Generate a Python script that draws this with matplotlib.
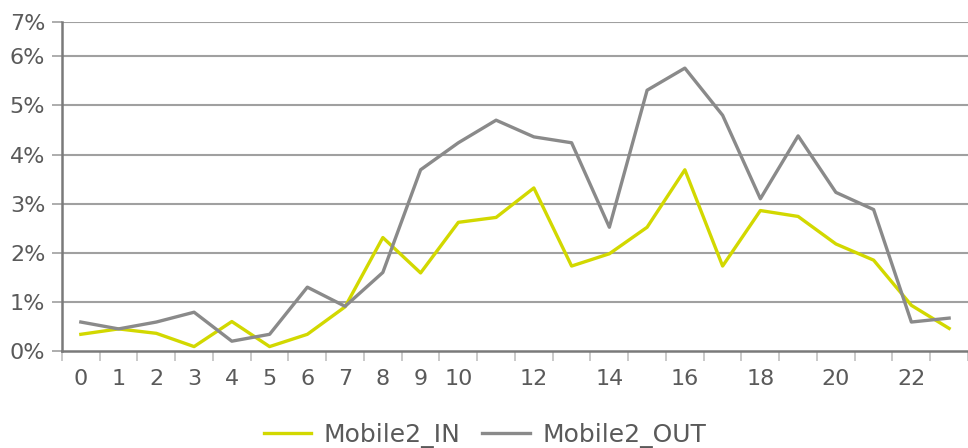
import matplotlib.pyplot as plt
import numpy as np

hours = list(range(24))
mobile2_in = [0.34, 0.45, 0.36, 0.09, 0.60, 0.09, 0.34, 0.90, 2.31, 1.59, 2.62, 2.72,
              3.32, 1.73, 1.98, 2.52, 3.69, 1.73, 2.86, 2.74, 2.18, 1.85, 0.93, 0.46]
mobile2_out = [0.59, 0.45, 0.59, 0.79, 0.20, 0.34, 1.30, 0.91, 1.60, 3.69, 4.24, 4.70,
               4.36, 4.24, 2.52, 5.31, 5.76, 4.80, 3.10, 4.38, 3.23, 2.88, 0.59, 0.67]
x_labels = ["0", "1", "2", "3", "4", "5", "6", "7", "8", "9", "10", "",
            "12", "", "14", "", "16", "", "18", "", "20", "", "22", ""]
y_ticks = [0, 1, 2, 3, 4, 5, 6, 6.7]
y_labels = ["0%", "1%", "2%", "3%", "4%", "5%", "6%", "7%"]

text_col = "#5a5a5a"
grid_col = "#a0a0a0"
axis_col = "#7a7a7a"

fig = plt.figure(figsize=(9.68, 4.48), dpi=100)
ax = fig.add_axes([0.064, 0.2165, 0.936, 0.7345])

x = np.arange(len(hours))
ax.plot(x, mobile2_in, color="#d2d800", lw=2.4, label="Mobile2_IN", zorder=3)
ax.plot(x, mobile2_out, color="#8a8a8a", lw=2.4, label="Mobile2_OUT", zorder=3)

ax.set_xlim(-0.5, 23.5)
ax.set_ylim(0, 6.7)
ax.set_yticks(y_ticks)
ax.set_yticklabels(y_labels)
ax.set_xticks(x)
ax.set_xticklabels(x_labels)
ax.set_xticks(np.arange(-0.5, 24, 1), minor=True)

for y in y_ticks[1:]:
    ax.axhline(y, color=grid_col, lw=1.5, zorder=1)

for s in ["top", "right"]:
    ax.spines[s].set_visible(False)
for s in ["left", "bottom"]:
    ax.spines[s].set_color(axis_col)
    ax.spines[s].set_linewidth(1.8)

ax.tick_params(axis="y", length=7, width=1.2, color=grid_col, pad=5,
               labelsize=16, labelcolor=text_col)
ax.tick_params(axis="x", which="major", length=0, pad=13,
               labelsize=16, labelcolor=text_col)
ax.tick_params(axis="x", which="minor", length=7, width=1.2, color="#c0c0c0")

leg = fig.legend(loc="center", bbox_to_anchor=(0.501, 0.028), ncol=2,
                 frameon=False, fontsize=18, handlelength=1.9, columnspacing=0.85,
                 handletextpad=0.5, borderpad=0, borderaxespad=0)
for t in leg.get_texts():
    t.set_color(text_col)

plt.savefig("out.png", dpi=100)
